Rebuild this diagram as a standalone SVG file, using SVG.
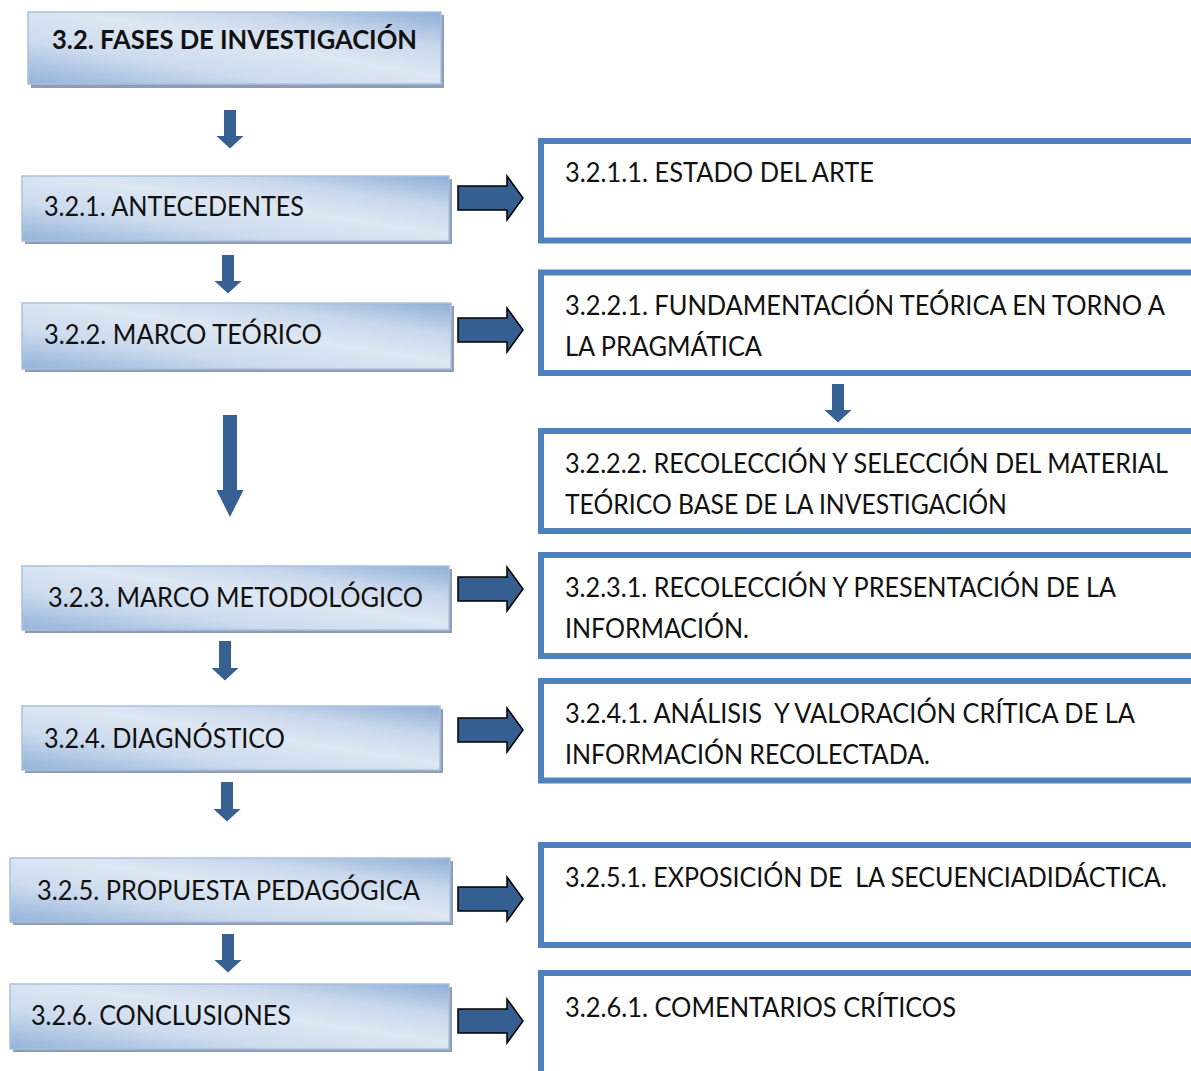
<svg xmlns="http://www.w3.org/2000/svg" width="1191" height="1071" viewBox="0 0 1191 1071">
<style>
.t{font-family:Lato,"Open Sans","Liberation Sans",sans-serif;font-size:26px;fill:#111;white-space:pre}
.b{font-weight:bold;font-size:27.5px}
.box{fill:url(#g);stroke:#A9C1DF;stroke-width:1.5}
.sh{fill:#8E9DB2}
.rb{fill:#fff;stroke:#4F81BD;stroke-width:6}
.da{fill:#376092}
.ra{fill:#355F91;stroke:#000;stroke-width:1.5;stroke-linejoin:miter}
</style>
<defs>
<linearGradient id="g" x1="0" y1="1" x2="1" y2="0">
<stop offset="0" stop-color="#93B2D9"/>
<stop offset="0.3" stop-color="#CCDBEE"/>
<stop offset="0.55" stop-color="#DDE7F3"/>
<stop offset="0.75" stop-color="#C9D8EC"/>
<stop offset="1" stop-color="#8FAED7"/>
</linearGradient>
</defs>

<g id="n-title">
<rect class="sh" x="31" y="15" width="413" height="73"/>
<rect class="box" x="28" y="12" width="413" height="72"/>
<text class="t b" x="52" y="49" textLength="365" lengthAdjust="spacingAndGlyphs">3.2. FASES DE INVESTIGACIÓN</text>
</g>
<g id="n-321">
<rect class="sh" x="25" y="179" width="427" height="65"/>
<rect class="box" x="22" y="176" width="427" height="65"/>
<text class="t" x="44" y="215.5" textLength="260" lengthAdjust="spacingAndGlyphs">3.2.1. ANTECEDENTES</text>
</g>
<g id="n-322">
<rect class="sh" x="25" y="306" width="429" height="66"/>
<rect class="box" x="22" y="303" width="429" height="66"/>
<text class="t" x="44" y="343.5" textLength="278" lengthAdjust="spacingAndGlyphs">3.2.2. MARCO TEÓRICO</text>
</g>
<g id="n-323">
<rect class="sh" x="25" y="569" width="427" height="64"/>
<rect class="box" x="22" y="566" width="427" height="64"/>
<text class="t" x="48" y="606.5" textLength="375" lengthAdjust="spacingAndGlyphs">3.2.3. MARCO METODOLÓGICO</text>
</g>
<g id="n-324">
<rect class="sh" x="25" y="709" width="418" height="64"/>
<rect class="box" x="22" y="706" width="418" height="64"/>
<text class="t" x="44" y="747.5" textLength="241" lengthAdjust="spacingAndGlyphs">3.2.4. DIAGNÓSTICO</text>
</g>
<g id="n-325">
<rect class="sh" x="13" y="861" width="440" height="64"/>
<rect class="box" x="10" y="858" width="440" height="64"/>
<text class="t" x="37" y="899.5" textLength="383" lengthAdjust="spacingAndGlyphs">3.2.5. PROPUESTA PEDAGÓGICA</text>
</g>
<g id="n-326">
<rect class="sh" x="13" y="987" width="439" height="65"/>
<rect class="box" x="10" y="984" width="439" height="65"/>
<text class="t" x="31" y="1024.5" textLength="260" lengthAdjust="spacingAndGlyphs">3.2.6. CONCLUSIONES</text>
</g>

<g id="n-3211">
<rect class="rb" x="541" y="141" width="700" height="99.5"/>
<text class="t" x="565" y="182" textLength="309" lengthAdjust="spacingAndGlyphs">3.2.1.1. ESTADO DEL ARTE</text>
</g>
<g id="n-3221">
<rect class="rb" x="541" y="272.5" width="700" height="100.5"/>
<text class="t" x="565" y="314.5" textLength="600" lengthAdjust="spacingAndGlyphs">3.2.2.1. FUNDAMENTACIÓN TEÓRICA EN TORNO A</text>
<text class="t" x="565" y="355.5" textLength="197" lengthAdjust="spacingAndGlyphs">LA PRAGMÁTICA</text>
</g>
<g id="n-3222">
<rect class="rb" x="541" y="431" width="700" height="100"/>
<text class="t" x="565" y="472.5" textLength="603" lengthAdjust="spacingAndGlyphs">3.2.2.2. RECOLECCIÓN Y SELECCIÓN DEL MATERIAL</text>
<text class="t" x="565" y="513.5" textLength="442" lengthAdjust="spacingAndGlyphs">TEÓRICO BASE DE LA INVESTIGACIÓN</text>
</g>
<g id="n-3231">
<rect class="rb" x="541" y="555" width="700" height="101"/>
<text class="t" x="565" y="596.5" textLength="551" lengthAdjust="spacingAndGlyphs">3.2.3.1. RECOLECCIÓN Y PRESENTACIÓN DE LA</text>
<text class="t" x="565" y="637.5" textLength="184" lengthAdjust="spacingAndGlyphs">INFORMACIÓN.</text>
</g>
<g id="n-3241">
<rect class="rb" x="541" y="681" width="700" height="99.5"/>
<text class="t" x="565" y="722.5" textLength="570" lengthAdjust="spacingAndGlyphs">3.2.4.1. ANÁLISIS  Y VALORACIÓN CRÍTICA DE LA</text>
<text class="t" x="565" y="763.5" textLength="365" lengthAdjust="spacingAndGlyphs">INFORMACIÓN RECOLECTADA.</text>
</g>
<g id="n-3251">
<rect class="rb" x="541" y="845" width="700" height="100"/>
<text class="t" x="565" y="886.5" textLength="602" lengthAdjust="spacingAndGlyphs">3.2.5.1. EXPOSICIÓN DE  LA SECUENCIADIDÁCTICA.</text>
</g>
<g id="n-3261">
<rect class="rb" x="541" y="973" width="700" height="200"/>
<text class="t" x="565" y="1016.5" textLength="391" lengthAdjust="spacingAndGlyphs">3.2.6.1. COMENTARIOS CRÍTICOS</text>
</g>

<g id="connectors">
<path class="da" d="M224,110 H236 V136 H243.5 L230,148.5 L216.5,136 H224 Z"/>
<path class="da" d="M222,255 H234 V281 H241.5 L228,293.5 L214.5,281 H222 Z"/>
<path class="da" d="M223,415 H237 V490 H243.5 L230,517 L216.5,490 H223 Z"/>
<path class="da" d="M219,641 H231 V668 H238.5 L225,680.5 L211.5,668 H219 Z"/>
<path class="da" d="M221,782 H233 V809 H240.5 L227,821.5 L213.5,809 H221 Z"/>
<path class="da" d="M222,934 H234 V960 H241.5 L228,972.5 L214.5,960 H222 Z"/>
<path class="da" d="M832,384 H844 V410 H851.5 L838,422.5 L824.5,410 H832 Z"/>
<path class="ra" d="M458,186 H507 V176 L523,198 L507,220 V210 H458 Z"/>
<path class="ra" d="M458,318 H507 V308 L523,330 L507,352 V342 H458 Z"/>
<path class="ra" d="M458,577 H507 V567 L523,589 L507,611 V601 H458 Z"/>
<path class="ra" d="M458,718 H507 V708 L523,730 L507,752 V742 H458 Z"/>
<path class="ra" d="M458,887 H507 V877 L523,899 L507,921 V911 H458 Z"/>
<path class="ra" d="M458,1009 H507 V999 L523,1021 L507,1043 V1033 H458 Z"/>
</g>
</svg>
